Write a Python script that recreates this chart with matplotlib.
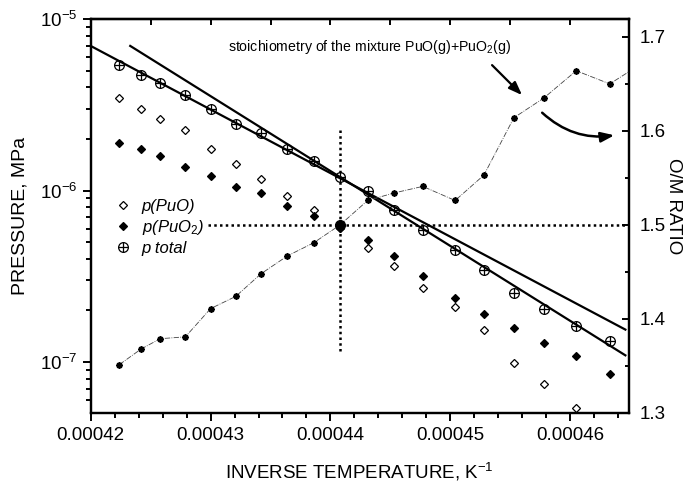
import matplotlib
matplotlib.use("Agg")
import matplotlib.pyplot as plt
from matplotlib.ticker import LogLocator, MultipleLocator, NullFormatter
from matplotlib.legend_handler import HandlerTuple

plt.rcParams['font.family'] = ['Liberation Sans', 'DejaVu Sans']
plt.rcParams['mathtext.fontset'] = 'custom'
plt.rcParams['mathtext.rm'] = 'Liberation Sans'
plt.rcParams['mathtext.it'] = 'Liberation Sans:italic'

# inverse temperature, K^-1
inv_T = [0.0004224, 0.0004242, 0.0004258, 0.0004279, 0.0004300, 0.0004321,
         0.0004342, 0.0004364, 0.0004386, 0.0004408, 0.0004431, 0.0004453,
         0.0004477, 0.0004504, 0.0004528, 0.0004553, 0.0004578, 0.0004605,
         0.0004633]
p_puo = [3.48e-6, 2.98e-6, 2.62e-6, 2.25e-6, 1.75e-6, 1.42e-6, 1.175e-6, 9.3e-7,
         7.67e-7, 6.03e-7, 4.65e-7, 3.62e-7, 2.72e-7, 2.10e-7, 1.53e-7, 9.88e-8,
         7.42e-8, 5.43e-8, 4.0e-8]
p_puo2 = [1.90e-6, 1.74e-6, 1.59e-6, 1.38e-6, 1.22e-6, 1.05e-6, 9.68e-7, 8.13e-7,
          7.08e-7, 6.03e-7, 5.13e-7, 4.14e-7, 3.19e-7, 2.35e-7, 1.90e-7, 1.57e-7,
          1.29e-7, 1.08e-7, 8.57e-8]
p_total = [5.38e-6, 4.70e-6, 4.21e-6, 3.59e-6, 2.97e-6, 2.46e-6, 2.18e-6, 1.74e-6,
           1.48e-6, 1.20e-6, 9.9e-7, 7.67e-7, 5.92e-7, 4.52e-7, 3.43e-7, 2.54e-7,
           2.03e-7, 1.62e-7, 1.32e-7]

# O/M ratio of the vapour (one more point past the axis end)
om_x = inv_T + [0.0004660]
om_ratio = [1.3515, 1.368, 1.379, 1.381, 1.411, 1.424, 1.448, 1.467, 1.481, 1.500,
            1.526, 1.534, 1.541, 1.526, 1.553, 1.614, 1.635, 1.664, 1.650, 1.672]

# two fitted lines (end points)
fit1_x = [0.00042, 0.0004646]
fit1_p = [6.97e-6, 1.547e-7]
fit2_x = [0.0004233, 0.0004646]
fit2_p = [6.97e-6, 1.095e-7]

# stoichiometric point O/M = 1.5
cross_x = 0.0004408
cross_om = 1.5
vline_p = [2.25e-6, 1.12e-7]
hline_x0 = 0.0004298

xticks = [0.00042, 0.00043, 0.00044, 0.00045, 0.00046]
xtick_labels = ['0.00042', '0.00043', '0.00044', '0.00045', '0.00046']
om_ticks = [1.3, 1.4, 1.5, 1.6, 1.7]

fig = plt.figure(figsize=(6.88, 4.88), dpi=100)
ax = fig.add_axes([0.1318, 0.1537, 0.7824, 0.8073])

ax.plot(fit1_x, fit1_p, color='black', lw=1.6, zorder=3)
ax.plot(fit2_x, fit2_p, color='black', lw=1.6, zorder=3)

h1, = ax.plot(inv_T, p_puo, ls='none', marker='D', ms=4.2, mfc='white', mec='black', mew=0.9, zorder=4)
h2, = ax.plot(inv_T, p_puo2, ls='none', marker='D', ms=4.2, mfc='black', mec='black', mew=0.9, zorder=4)
h3a, = ax.plot(inv_T, p_total, ls='none', marker='o', ms=7, mfc='none', mec='black', mew=0.9, zorder=4)
h3b, = ax.plot(inv_T, p_total, ls='none', marker='+', ms=7, mec='black', mew=0.9, zorder=4)

ax.plot([cross_x, cross_x], vline_p, color='black', lw=1.8, ls=(0, (1, 1.3)), zorder=2)

ax.set_yscale('log')
ax.set_xlim(0.00042, 0.0004649)
ax.set_ylim(5.05e-8, 1e-5)
ax.set_xticks(xticks, xtick_labels)
ax.xaxis.set_minor_locator(MultipleLocator(2e-6))
ax.yaxis.set_major_locator(LogLocator(base=10, numticks=10))
ax.yaxis.set_minor_locator(LogLocator(base=10, subs=range(2, 10), numticks=20))
ax.yaxis.set_minor_formatter(NullFormatter())
ax.tick_params(which='major', direction='out', length=6, width=1.4, labelsize=13.5)
ax.tick_params(which='minor', direction='out', length=3.5, width=1.4)
ax.tick_params(axis='x', pad=4)
for s in ax.spines.values():
    s.set_linewidth(1.6)

ax.set_xlabel('INVERSE TEMPERATURE, K$^{-1}$', fontsize=13.5, labelpad=12)
ax.set_ylabel('PRESSURE, MPa', fontsize=14, labelpad=8)

top = ax.secondary_xaxis('top')
top.xaxis.set_major_locator(MultipleLocator(5e-6))
top.tick_params(direction='in', length=4, width=1.4, labeltop=False)
top.spines['top'].set_linewidth(1.6)

ax2 = ax.twinx()
ax2.plot(om_x, om_ratio, color='#444444', lw=0.6, ls='-.', marker=(8, 2, 0),
         ms=4.5, mec='black', mew=1.3, zorder=3)
ax2.plot([hline_x0, 0.0004649], [cross_om, cross_om], color='black', lw=1.8,
         ls=(0, (1, 1.3)), zorder=2)
ax2.plot([cross_x], [cross_om], ls='none', marker='o', ms=7, color='black', zorder=5)
ax2.set_ylim(1.3, 1.719)
ax2.set_yticks(om_ticks, [str(v) for v in om_ticks])
ax2.yaxis.set_minor_locator(MultipleLocator(0.05))
ax2.tick_params(which='major', direction='in', length=5, width=1.4, labelsize=13.5, pad=8)
ax2.tick_params(which='minor', direction='in', length=3, width=1.4)
ax2.set_ylabel('O/M RATIO', fontsize=13.5, rotation=-90, va='center', ha='center')
ax2.yaxis.set_label_coords(1.082, 0.525)
for s in ax2.spines.values():
    s.set_linewidth(1.6)

ax.legend([h1, h2, (h3a, h3b)], ['p(PuO)', 'p(PuO$_2$)', 'p total'],
          handler_map={tuple: HandlerTuple(ndivide=1, pad=0)},
          loc='upper left', bbox_to_anchor=(0.03, 0.565), frameon=False,
          prop={'style': 'italic', 'size': 12}, handlelength=1.0,
          handletextpad=0.6, labelspacing=0.25, borderpad=0)

ax.text(0.255, 0.929, 'stoichiometry of the mixture PuO(g)+PuO$_2$(g)',
        transform=ax.transAxes, fontsize=10.2, va='center', ha='left')
ax.annotate('', xy=(0.805, 0.802), xytext=(0.742, 0.888), xycoords='axes fraction',
            arrowprops=dict(arrowstyle='-|>,head_length=0.8,head_width=0.3', color='black', lw=1.6))
ax.annotate('', xy=(0.978, 0.706), xytext=(0.835, 0.767), xycoords='axes fraction',
            arrowprops=dict(arrowstyle='-|>,head_length=0.8,head_width=0.3', color='black', lw=1.8,
                            connectionstyle='arc3,rad=0.25'))

fig.savefig('out.png', dpi=100)
